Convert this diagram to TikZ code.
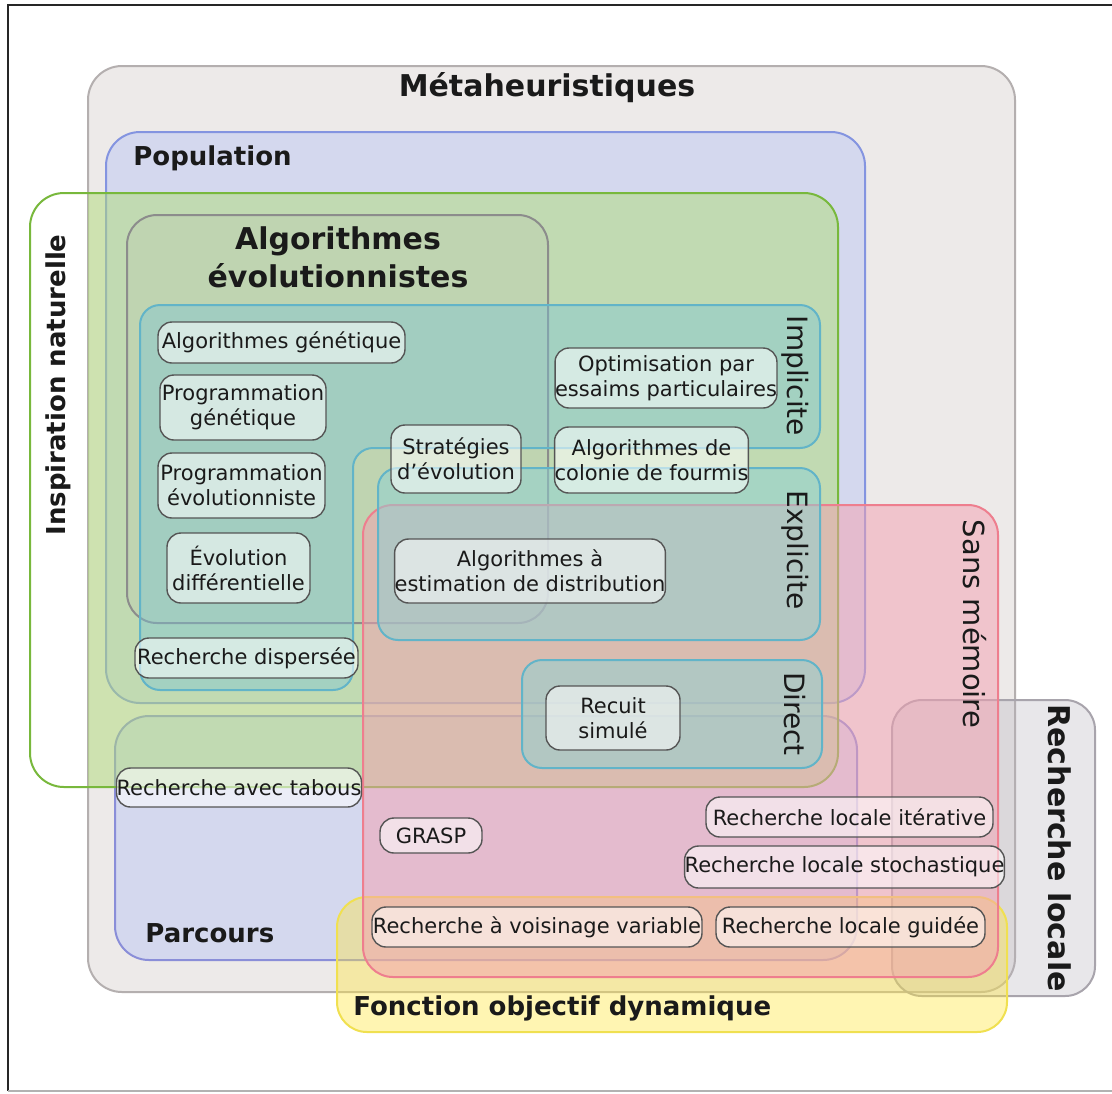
\documentclass[tikz,border=0pt]{standalone}
\usepackage{fontspec}
\setmainfont{DejaVu Sans}
\definecolor{metafill}{HTML}{EDEAE9}
\definecolor{metaedge}{HTML}{B4AFAF}
\definecolor{popfill}{HTML}{C4CCF2}
\definecolor{popedge}{HTML}{8494E0}
\definecolor{parcedge}{HTML}{8A8ED8}
\definecolor{natfill}{HTML}{B0DC78}
\definecolor{natedge}{HTML}{78B83C}
\definecolor{evofill}{HTML}{B8B8B0}
\definecolor{evoedge}{HTML}{8C8C8C}
\definecolor{cyanfill}{HTML}{78C4D8}
\definecolor{cyanlow}{HTML}{8CD2D4}
\definecolor{cyanedge}{HTML}{62B4C8}
\definecolor{redfill}{HTML}{F4A0B0}
\definecolor{rededge}{HTML}{EE7E8E}
\definecolor{locfill}{HTML}{B4B0BC}
\definecolor{locedge}{HTML}{A8A4AC}
\definecolor{yelfill}{HTML}{FFE640}
\definecolor{yeledge}{HTML}{F0E050}
\definecolor{algoedge}{HTML}{555555}
\definecolor{ink}{HTML}{1A1A1A}
\tikzset{
  setline/.style={line width=1pt},
  sz/.style 2 args={minimum width=#1*0.5pt, minimum height=#2*0.5pt},
  algo/.style={draw=algoedge, line width=0.7pt, fill=white, fill opacity=0.55,
    text opacity=1, text=ink, rounded corners=7pt, align=center, inner sep=0pt,
    font=\fontsize{10.5}{12.5}\selectfont},
  bigtitle/.style={text=ink, align=center, inner sep=0pt,
    font=\fontsize{15}{19}\selectfont\bfseries},
  settitle/.style={text=ink, inner sep=0pt, font=\fontsize{13}{15}\selectfont\bfseries},
  sidelabel/.style={text=ink, inner sep=0pt, rotate=-90, font=\fontsize{14}{16}\selectfont}
}
\begin{document}
\begin{tikzpicture}[x=0.5pt,y=-0.5pt]
\useasboundingbox (0,0) rectangle (1112,1093);
\fill[white] (0,0) rectangle (1112,1093);
% outer frame
\draw[line width=1pt, black!85] (1112,5) -- (8,5) -- (8,1091);
\draw[line width=0.6pt, black!30] (8,1091) -- (1112,1091);

% Métaheuristiques
\draw[setline, draw=metaedge, fill=metafill, rounded corners=17pt] (88,66) rectangle (1015,992);
% Population
\draw[setline, draw=popedge, fill=popfill, fill opacity=0.6, rounded corners=17pt] (106,132) rectangle (865,703);
% Parcours
\draw[setline, draw=parcedge, fill=popfill, fill opacity=0.6, rounded corners=17pt] (115,716) rectangle (857,960);
% Inspiration naturelle: tinted only inside the main set
\begin{scope}
  \clip[rounded corners=17pt] (88,66) rectangle (1015,992);
  \fill[natfill, fill opacity=0.5, rounded corners=17pt] (30,193) rectangle (838,787);
\end{scope}
\draw[setline, draw=natedge, rounded corners=17pt] (30,193) rectangle (838,787);
% Algorithmes évolutionnistes
\draw[setline, draw=evoedge, fill=evofill, fill opacity=0.15, rounded corners=15pt] (127,215) rectangle (548,623);
% Recherche locale
\draw[setline, draw=locedge, fill=locfill, fill opacity=0.3, rounded corners=15pt] (892,700) rectangle (1095,996);
% Fonction objectif dynamique
\draw[setline, draw=yeledge, fill=yelfill, fill opacity=0.4, rounded corners=15pt] (337,897) rectangle (1007,1032);
% Sans mémoire
\draw[setline, draw=rededge, fill=redfill, fill opacity=0.5, rounded corners=15pt] (363,505) rectangle (998,977);
% Implicite
\draw[setline, draw=cyanedge, fill=cyanfill, fill opacity=0.4, rounded corners=10pt]
  (140,305) -- (820,305) -- (820,448) -- (353,448) -- (353,690) -- (140,690) -- cycle;
% Explicite
\draw[setline, draw=cyanedge, fill=cyanlow, fill opacity=0.5, rounded corners=10pt] (378,468) rectangle (820,640);
% Direct
\draw[setline, draw=cyanedge, fill=cyanlow, fill opacity=0.5, rounded corners=10pt] (522,660) rectangle (822,768);

% set labels
\node[bigtitle] (tmeta) at (547,88) {Métaheuristiques};
\node[settitle, anchor=west] (tpop) at (133,158) {Population};
\node[settitle, anchor=west] (tparc) at (145,933) {Parcours};
\node[bigtitle] (tevo) at (338,257) {Algorithmes\\évolutionnistes};
\node[settitle, rotate=90] (tnat) at (58,385) {Inspiration naturelle};
\node[sidelabel] (timp) at (795,376) {Implicite};
\node[sidelabel] (texp) at (795,550) {Explicite};
\node[sidelabel] (tdir) at (795,714) {Direct};
\node[sidelabel, font=\fontsize{14.5}{16}\selectfont] (tsans) at (975,624) {Sans mémoire};
\node[bigtitle, rotate=-90] (tloc) at (1060,848) {Recherche locale};
\node[settitle, anchor=west] (tfod) at (353,1008) {Fonction objectif dynamique};

% algorithms
\node[algo, sz={247}{41}] (ag) at (281.5,342.5) {Algorithmes génétique};
\node[algo, sz={166}{65}] (pg) at (243,407.5) {Programmation\\génétique};
\node[algo, sz={167}{65}] (pe) at (241.5,485.5) {Programmation\\évolutionniste};
\node[algo, sz={143}{70}] (ed) at (238.5,568) {Évolution\\différentielle};
\node[algo, sz={223}{40}] (rd) at (246.5,658) {Recherche dispersée};
\node[algo, sz={130}{68}] (se) at (456,459) {Stratégies\\d'évolution};
\node[algo, sz={220}{60}] (ope) at (666,378) {Optimisation par\\essaims particulaires};
\node[algo, sz={193}{66}] (acf) at (651.5,460) {Algorithmes de\\colonie de fourmis};
\node[algo, sz={270}{64}] (eda) at (530,571) {Algorithmes à\\estimation de distribution};
\node[algo, sz={134}{64}] (rs) at (613,718) {Recuit\\simulé};
\node[algo, sz={244}{39}] (rt) at (239,787.5) {Recherche avec tabous};
\node[algo, sz={102}{35}] (grasp) at (431,835.5) {GRASP};
\node[algo, sz={287}{40}] (rli) at (849.5,817) {Recherche locale itérative};
\node[algo, sz={317}{42}] (rls) at (844.5,867) {Recherche locale stochastique};
\node[algo, sz={330}{40}] (rvv) at (537,927) {Recherche à voisinage variable};
\node[algo, sz={269}{40}] (rlg) at (850.5,927) {Recherche locale guidée};
\end{tikzpicture}
\end{document}
